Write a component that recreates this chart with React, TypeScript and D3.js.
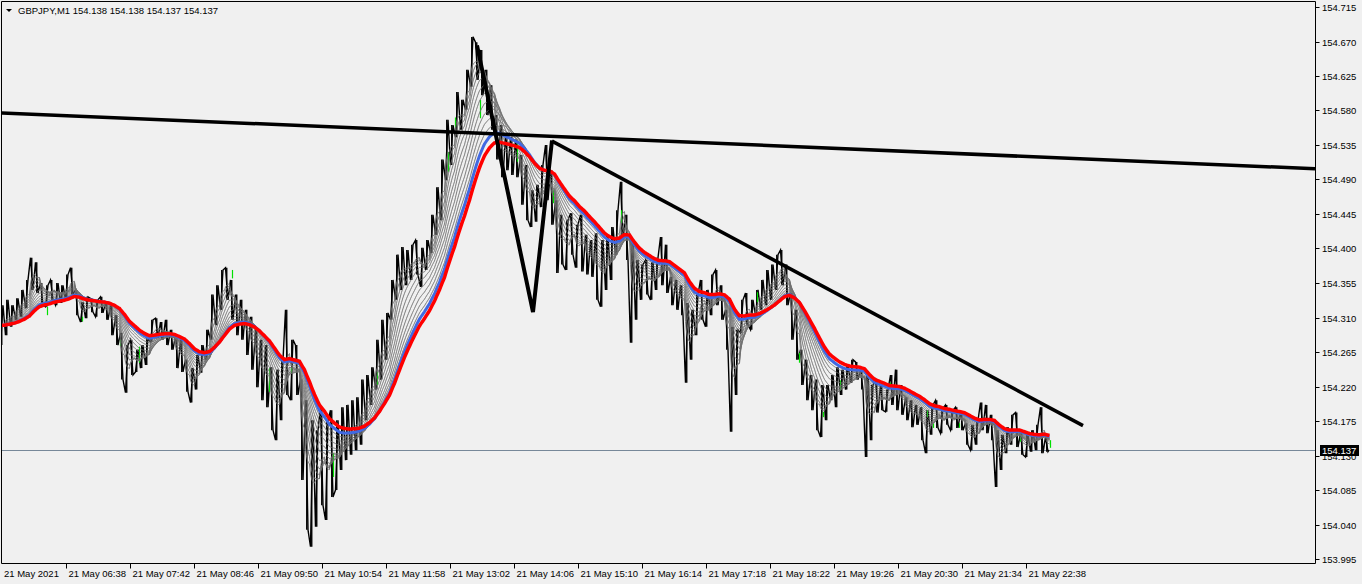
import React from "react";
import * as d3 from "d3";

// ---------- data ----------
const symbolTitle = "GBPJPY,M1";
const quote = [154.138, 154.138, 154.137, 154.137];
const startTime = "2021-05-21 05:32";
const barMinutes = 5;
const bidPrice = 154.137;

const highs = [
  154.326, 154.333, 154.326, 154.335, 154.346, 154.359, 154.388, 154.382, 154.355, 154.352,
  154.359, 154.355, 154.352, 154.366, 154.375, 154.346, 154.330, 154.337, 154.335, 154.333,
  154.337, 154.329, 154.326, 154.313, 154.290, 154.274, 154.281, 154.268, 154.274, 154.283,
  154.307, 154.309, 154.304, 154.307, 154.294, 154.287, 154.281, 154.255, 154.244, 154.261,
  154.274, 154.294, 154.340, 154.352, 154.372, 154.375, 154.359, 154.340, 154.333, 154.320,
  154.311, 154.294, 154.281, 154.274, 154.245, 154.242, 154.255, 154.320, 154.281, 154.274,
  154.229, 154.202, 154.176, 154.163, 154.193, 154.176, 154.189, 154.176, 154.193, 154.196,
  154.202, 154.206, 154.229, 154.235, 154.245, 154.281, 154.307, 154.316, 154.359, 154.392,
  154.402, 154.398, 154.405, 154.411, 154.401, 154.411, 154.444, 154.480, 154.516, 154.568,
  154.561, 154.604, 154.594, 154.633, 154.676, 154.669, 154.659, 154.633, 154.613, 154.574,
  154.561, 154.548, 154.545, 154.542, 154.522, 154.509, 154.476, 154.483, 154.509, 154.535,
  154.502, 154.463, 154.444, 154.437, 154.446, 154.431, 154.444, 154.418, 154.411, 154.420,
  154.411, 154.418, 154.428, 154.450, 154.487, 154.444, 154.407, 154.385, 154.379, 154.385,
  154.382, 154.388, 154.415, 154.405, 154.363, 154.359, 154.352, 154.329, 154.320, 154.340,
  154.359, 154.346, 154.366, 154.372, 154.352, 154.320, 154.298, 154.294, 154.333, 154.342,
  154.333, 154.346, 154.359, 154.372, 154.379, 154.392, 154.398, 154.379, 154.342, 154.320,
  154.268, 154.255, 154.235, 154.229, 154.222, 154.222, 154.235, 154.245, 154.242, 154.248,
  154.255, 154.252, 154.242, 154.238, 154.222, 154.229, 154.222, 154.216, 154.235, 154.242,
  154.222, 154.206, 154.202, 154.196, 154.193, 154.189, 154.196, 154.202, 154.192, 154.196,
  154.189, 154.193, 154.187, 154.172, 154.170, 154.176, 154.199, 154.196, 154.183, 154.163,
  154.157, 154.167, 154.183, 154.186, 154.159, 154.157, 154.163, 154.170, 154.193, 154.154,
];

const lows = [
  154.274, 154.287, 154.298, 154.307, 154.311, 154.322, 154.346, 154.342, 154.326, 154.324,
  154.333, 154.326, 154.329, 154.333, 154.340, 154.313, 154.304, 154.309, 154.317, 154.311,
  154.316, 154.307, 154.287, 154.274, 154.229, 154.212, 154.235, 154.239, 154.244, 154.248,
  154.278, 154.283, 154.281, 154.274, 154.268, 154.244, 154.239, 154.213, 154.199, 154.216,
  154.238, 154.255, 154.281, 154.300, 154.320, 154.333, 154.307, 154.287, 154.281, 154.261,
  154.242, 154.219, 154.202, 154.193, 154.163, 154.150, 154.176, 154.209, 154.202, 154.209,
  154.098, 154.033, 154.011, 154.037, 154.065, 154.046, 154.076, 154.085, 154.111, 154.124,
  154.131, 154.137, 154.144, 154.176, 154.196, 154.216, 154.229, 154.255, 154.307, 154.333,
  154.346, 154.352, 154.359, 154.366, 154.350, 154.372, 154.394, 154.418, 154.437, 154.489,
  154.509, 154.545, 154.555, 154.581, 154.611, 154.620, 154.600, 154.574, 154.555, 154.516,
  154.493, 154.502, 154.496, 154.493, 154.457, 154.437, 154.428, 154.435, 154.454, 154.463,
  154.431, 154.368, 154.379, 154.372, 154.392, 154.375, 154.370, 154.366, 154.363, 154.333,
  154.324, 154.346, 154.359, 154.392, 154.411, 154.385, 154.277, 154.307, 154.333, 154.340,
  154.333, 154.346, 154.352, 154.342, 154.326, 154.320, 154.313, 154.225, 154.255, 154.287,
  154.307, 154.298, 154.313, 154.326, 154.307, 154.268, 154.161, 154.209, 154.290, 154.300,
  154.294, 154.311, 154.320, 154.326, 154.333, 154.346, 154.352, 154.326, 154.281, 154.255,
  154.222, 154.202, 154.189, 154.163, 154.154, 154.176, 154.202, 154.193, 154.209, 154.216,
  154.225, 154.229, 154.216, 154.128, 154.150, 154.186, 154.189, 154.187, 154.196, 154.189,
  154.183, 154.176, 154.167, 154.170, 154.150, 154.133, 154.157, 154.166, 154.159, 154.170,
  154.163, 154.166, 154.163, 154.144, 154.137, 154.144, 154.163, 154.159, 154.150, 154.089,
  154.111, 154.133, 154.144, 154.141, 154.131, 154.128, 154.135, 154.137, 154.133, 154.135,
];

// bullish candle bodies that stand out in green
const greenTimes = [
  "06:19", "06:54", "07:32", "07:51", "09:24", "10:01", "10:23", "11:05", "11:49",
  "13:00", "13:07", "13:32", "14:09", "14:45", "15:53", "18:09", "18:51", "19:15",
  "19:32", "20:22", "20:59", "21:05", "21:31", "22:32", "23:02",
];
const greenTops = [
  154.324, 154.311, 154.281, 154.272, 154.372, 154.244, 154.245, 154.133, 154.239,
  154.526, 154.571, 154.594, 154.539, 154.476, 154.450, 154.343, 154.264, 154.187,
  154.228, 154.225, 154.189, 154.172, 154.172, 154.154, 154.150,
];
const greenBottoms = [
  154.313, 154.305, 154.273, 154.251, 154.361, 154.213, 154.238, 154.102, 154.222,
  154.500, 154.558, 154.570, 154.513, 154.459, 154.433, 154.330, 154.251, 154.180,
  154.215, 154.218, 154.180, 154.166, 154.166, 154.148, 154.140,
];

const priceTicks = [
  154.715, 154.67, 154.625, 154.58, 154.535, 154.49, 154.445, 154.4, 154.355, 154.31,
  154.265, 154.22, 154.175, 154.13, 154.085, 154.04, 153.995,
];

const timeTicks = [
  "06:38", "07:42", "08:46", "09:50", "10:54", "11:58", "13:02", "14:06",
  "15:10", "16:14", "17:18", "18:22", "19:26", "20:30", "21:34", "22:38",
];

const emaGrayPeriods = [3, 6, 10, 14, 19, 25, 31, 38, 45, 52, 59];
const emaBluePeriod = 66;
const emaRedPeriod = 75;
const emaSeed = 154.3;

const trendLineLong = [
  { t: "2021-05-21 05:32", p: 154.577 },
  { t: "2021-05-22 03:27", p: 154.504 },
];
const trendLineDown = [
  { t: "2021-05-21 14:44", p: 154.540 },
  { t: "2021-05-21 23:35", p: 154.169 },
];
const zigzagLine = [
  { t: "2021-05-21 13:29", p: 154.665 },
  { t: "2021-05-21 14:25", p: 154.317 },
  { t: "2021-05-21 14:44", p: 154.541 },
];

// ---------- chart ----------
const W = 1362;
const H = 584;
const AXIS_X = 1315.5;
const AXIS_Y = 563.5;
const FONT = "'Liberation Sans', Arial, sans-serif";

export default function App() {
  const parse = d3.timeParse("%Y-%m-%d %H:%M");
  const day = startTime.slice(0, 10);
  const t0 = parse(startTime) as Date;
  const x = d3
    .scaleTime()
    .domain([t0, d3.timeMinute.offset(t0, 1315)])
    .range([0, 1315]);
  const y = d3.scaleLinear().domain([153.995, 154.715]).range([559, 7]);

  const bars = highs.map((h, i) => ({
    t: d3.timeMinute.offset(t0, i * barMinutes),
    h,
    l: lows[i],
    m: (h + lows[i]) / 2,
  }));

  // zigzag path for bars
  const pricePts: [number, number][] = [];
  bars.forEach((b, i) => {
    const nx = i < bars.length - 1 ? bars[i + 1].m : bidPrice;
    const x0 = x(b.t);
    const seq = nx >= b.m ? [b.l, b.h] : [b.h, b.l];
    pricePts.push([x0 + 0.5, y(seq[0])]);
    pricePts.push([x0 + 3, y(seq[1])]);
  });
  pricePts.push([x(d3.timeMinute.offset(t0, bars.length * barMinutes - 1)), y(bidPrice)]);
  const lineGen = d3.line();

  // minute series for EMA
  const minutes: { t: Date; v: number }[] = [];
  bars.forEach((b) => {
    for (let k = 0; k < barMinutes; k++) {
      minutes.push({ t: d3.timeMinute.offset(b.t, k), v: b.m });
    }
  });
  const ema = (n: number) => {
    const a = 2 / (n + 1);
    let e = emaSeed;
    return minutes.map((d) => {
      e = e + a * (d.v - e);
      return [x(d.t) + 0.5, y(e)] as [number, number];
    });
  };

  const fmtTime = d3.timeFormat("%d %b %H:%M");
  const fmtDate = d3.timeFormat("%d %b %Y");
  const tl = (pts: { t: string; p: number }[]) =>
    pts.map((d) => [x(parse(d.t) as Date), y(d.p)] as [number, number]);

  const bidY = Math.round(y(bidPrice));

  return (
    <svg
      width={W}
      height={H}
      style={{ position: "absolute", left: 0, top: 0, display: "block" }}
      fontFamily={FONT}
    >
      <rect x={0} y={0} width={W} height={H} fill="#f0f0f0" />
      <defs>
        <clipPath id="plot">
          <rect x={2} y={2} width={AXIS_X - 2} height={AXIS_Y - 2} />
        </clipPath>
      </defs>

      <g clipPath="url(#plot)">
        {/* bid line */}
        <line x1={0} x2={AXIS_X} y1={bidY + 0.5} y2={bidY + 0.5} stroke="#778899" strokeWidth={1} />
        {/* price bars */}
        {bars.map((b, i) => (
          <line
            key={i}
            x1={x(b.t) + 1.75}
            x2={x(b.t) + 1.75}
            y1={y(b.h)}
            y2={y(b.l)}
            stroke="#000"
            strokeWidth={1.4}
          />
        ))}
        <path d={lineGen(pricePts) || ""} fill="none" stroke="#000" strokeWidth={1.4} />
        {greenTimes.map((s, i) => {
          const xx = Math.round(x(parse(day + " " + s) as Date)) + 0.5;
          return (
            <line key={s} x1={xx} x2={xx} y1={y(greenTops[i])} y2={y(greenBottoms[i])} stroke="#00e000" strokeWidth={1.2} />
          );
        })}
        {/* ribbon */}
        {emaGrayPeriods.map((n) => (
          <path key={n} d={lineGen(ema(n)) || ""} fill="none" stroke="#6e6e6e" strokeWidth={0.9} />
        ))}
        <path d={lineGen(ema(emaBluePeriod)) || ""} fill="none" stroke="#4169e1" strokeWidth={3} />
        <path d={lineGen(ema(emaRedPeriod)) || ""} fill="none" stroke="#ff0000" strokeWidth={3.5} />
        {/* trend lines */}
        <path d={lineGen(tl(trendLineLong)) || ""} fill="none" stroke="#000" strokeWidth={3.5} />
        <path d={lineGen(tl(trendLineDown)) || ""} fill="none" stroke="#000" strokeWidth={3.5} />
        <path d={lineGen(tl(zigzagLine)) || ""} fill="none" stroke="#000" strokeWidth={4} strokeLinejoin="miter" />
      </g>

      {/* frame */}
      <path d={`M1.5,${AXIS_Y} V1.5 H${AXIS_X} V${AXIS_Y} H1.5`} fill="none" stroke="#000" strokeWidth={1} />

      {/* header */}
      <path d="M6,9 L12,9 L9,12 Z" fill="#000" />
      <text x={18} y={13.5} fontSize={9.5} fill="#000">
        {symbolTitle + "  " + quote.map((q) => q.toFixed(3)).join(" ")}
      </text>

      {/* price axis */}
      {priceTicks.map((p) => {
        const yy = Math.round(y(p)) + 0.5;
        return (
          <g key={p}>
            <line x1={AXIS_X} x2={AXIS_X + 4} y1={yy} y2={yy} stroke="#000" />
            <text x={1322} y={yy + 3.5} fontSize={9.5} fill="#000">
              {p.toFixed(3)}
            </text>
          </g>
        );
      })}
      <rect x={1320} y={bidY - 5} width={39} height={11} fill="#000" />
      <text x={1322} y={bidY + 4} fontSize={9.5} fill="#fff">
        {bidPrice.toFixed(3)}
      </text>

      {/* time axis */}
      <text x={4} y={577} fontSize={9.5} fill="#000">
        {fmtDate(t0)}
      </text>
      {timeTicks.map((s) => {
        const t = parse(day + " " + s) as Date;
        const xx = Math.round(x(t)) + 0.5;
        return (
          <g key={s}>
            <line x1={xx} x2={xx} y1={AXIS_Y} y2={AXIS_Y + 5} stroke="#000" />
            <text x={xx + 2} y={577} fontSize={9.5} fill="#000">
              {fmtTime(t)}
            </text>
          </g>
        );
      })}
    </svg>
  );
}
